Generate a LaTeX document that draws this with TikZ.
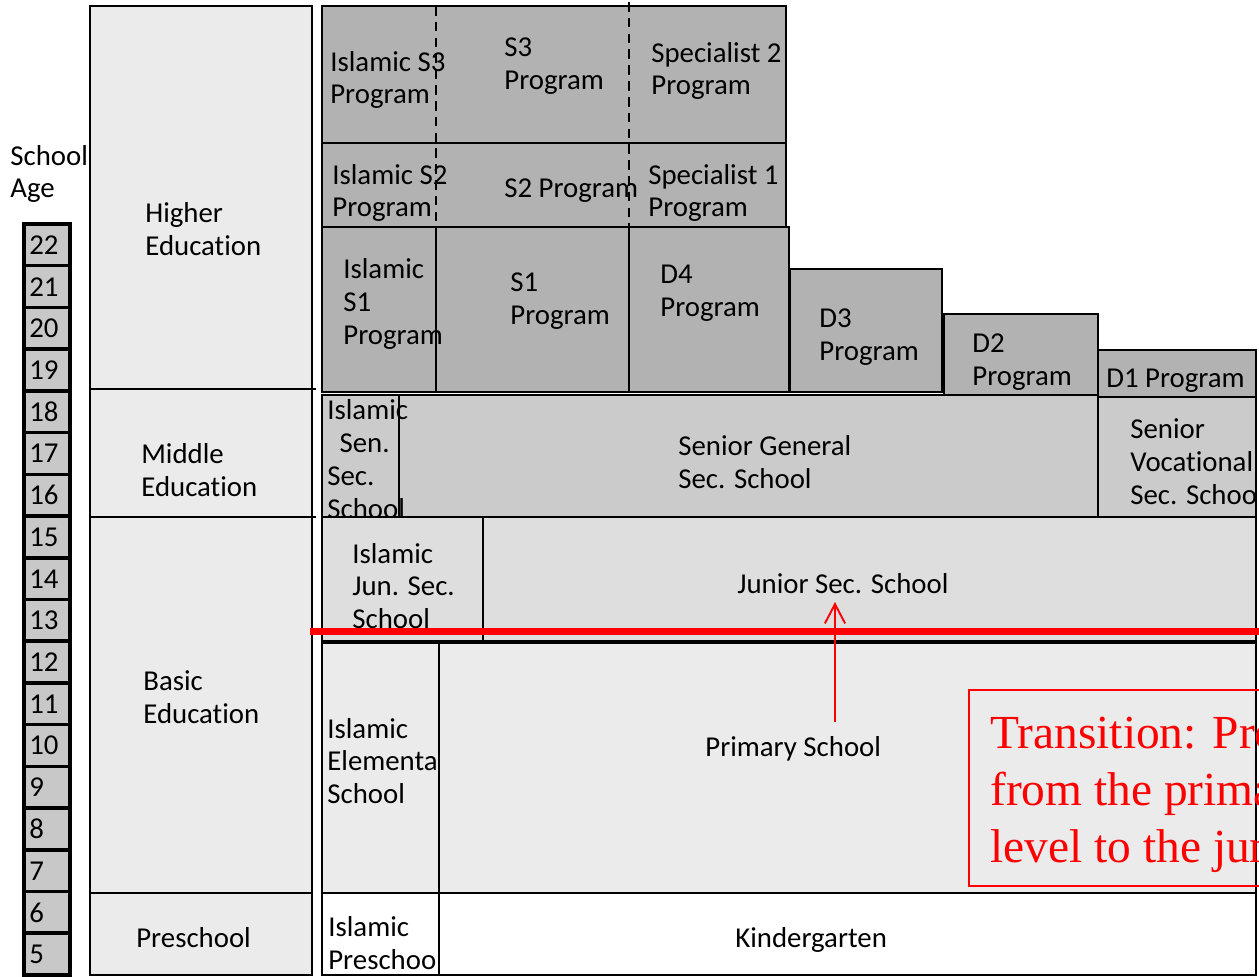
\documentclass[tikz,border=0pt]{standalone}
\usepackage{fontspec}
\setmainfont{Carlito}[Ligatures=NoCommon]
\newfontfamily\transfont{Liberation Serif}
\usetikzlibrary{arrows.meta}

\definecolor{progfill}{HTML}{B2B2B2}
\definecolor{seniorfill}{HTML}{CBCBCB}
\definecolor{juniorfill}{HTML}{DEDEDE}
\definecolor{basicfill}{HTML}{EBEBEB}
\definecolor{agefill}{HTML}{C8C8C8}

\begin{document}
\begin{tikzpicture}[x=0.02cm,y=-0.02cm,
    cell/.style={draw=black,line width=1.2pt},
    level/.style={draw=black,line width=0.9pt,fill=basicfill},
    lbl/.style={anchor=west,align=left,inner sep=0pt,font=\fontsize{16.4}{18.7}\selectfont},
    split/.style={draw=black,line width=1.2pt,dash pattern=on 5.5pt off 3.5pt}]
\useasboundingbox (0,0) rectangle (1259,977);
\clip (0,0) rectangle (1259,977);

% age scale
\node[lbl] (agehead) at (10,174) {School\\Age};
\foreach \a [count=\i from 0] in {22,21,...,5}{
  \draw[fill=agefill,line width=2pt] (24,224+\i*41.72) rectangle (70,265.72+\i*41.72);
  \node[lbl] (age\a) at (29,245+\i*41.72) {\a};
}

% education levels
\draw[level] (90,6) rectangle (312,389);
\draw[level] (90,389) rectangle (312,517);
\draw[level] (90,517) rectangle (312,893);
\draw[level] (90,893) rectangle (312,975);
\draw[line width=0.9pt] (312,389) -- (316,389) (312,517) -- (316,517);
\node[lbl] (higher) at (145,229) {Higher\\Education};
\node[lbl] (middle) at (141,470) {Middle\\Education};
\node[lbl] (basic) at (143,697) {Basic\\Education};
\node[lbl] (preschool) at (136,938) {Preschool};

% higher education programs
\draw[cell,fill=progfill] (322,6) rectangle (786,143);
\draw[cell,fill=progfill] (322,143) rectangle (786,227);
\draw[cell,fill=progfill] (322,227) rectangle (436,392);
\draw[cell,fill=progfill] (436,227) rectangle (629,392);
\draw[cell,fill=progfill] (629,227) rectangle (789,392);
\draw[cell,fill=progfill] (790,269) rectangle (942,392);
\draw[cell,fill=progfill] (944,314) rectangle (1098,395);
\draw[cell,fill=progfill] (1098,350) rectangle (1256,397);
\node[lbl] (islams3) at (330,80) {Islamic S3\\Program};
\node[lbl] (progs3) at (504,66) {S3\\Program};
\node[lbl] (spec2) at (651,71) {Specialist 2\\Program};
\node[lbl] (islams2) at (332,193) {Islamic S2\\Program};
\node[lbl] (progs2) at (504,191) {S2 Program};
\node[lbl] (spec1) at (648,193) {Specialist 1\\Program};
\node[lbl] (islams1) at (343,304) {Islamic\\S1\\Program};
\node[lbl] (progs1) at (510,301) {S1\\Program};
\node[lbl] (progd4) at (660,293) {D4\\Program};
\node[lbl] (progd3) at (819,337) {D3\\Program};
\node[lbl] (progd2) at (972,362) {D2\\Program};
\node[lbl] (progd1) at (1106,381) {D1 Program};
\draw[split] (436,6) -- (436,227);
\draw[split] (629,2) -- (629,227);

% middle education
\draw[cell,fill=seniorfill] (322,395) rectangle (399,517);
\draw[cell,fill=seniorfill] (399,395) rectangle (1098,517);
\draw[cell,fill=seniorfill] (1098,397) rectangle (1256,517);
\node[lbl] (islamsen) at (327,459) {Islamic\\\hspace*{7pt}Sen.\\Sec.\\School};
\node[lbl] (sengen) at (678,462) {Senior General\\Sec. School};
\node[lbl] (senvoc) at (1130,462) {Senior\\Vocational\\Sec. Schoo};

% basic education
\draw[cell,fill=juniorfill] (322,517) rectangle (483,641);
\draw[cell,fill=juniorfill] (483,517) rectangle (1256,641);
\node[lbl] (islamjun) at (352,586) {Islamic\\Jun. Sec.\\School};
\node[lbl] (junior) at (737,584) {Junior Sec. School};
\draw[cell,fill=basicfill] (322,643) rectangle (439,893);
\draw[cell,fill=basicfill] (439,643) rectangle (1256,893);
\node[lbl] (islamelem) at (327,761) {Islamic\\Elementa\\School};
\node[lbl] (primary) at (705,749) {Primary School};

% preschool
\draw[cell,fill=white] (322,893) rectangle (439,975);
\draw[cell,fill=white] (439,893) rectangle (1256,975);
\node[lbl] (islampre) at (328,943) {Islamic\\Preschoo};
\node[lbl] (kinder) at (735,940) {Kindergarten};

% transition
\coordinate (cutleft) at (310,631.5);
\coordinate (cutright) at (1262,631.5);
\draw[red,line width=4pt] (cutleft) -- (cutright);
\coordinate (arrowfoot) at (835,722);
\coordinate (arrowtip) at (835,602);
\draw[red,line width=1.1pt,-{Straight Barb[length=11pt,width=11.5pt]}] (arrowfoot) -- (arrowtip);
\draw[red,line width=1.3pt] (969,690) rectangle (1300,886);
\node[anchor=west,align=left,inner sep=0pt,text=red,font=\transfont\fontsize{27}{32.6}\selectfont] (transnote) at (990,795) {Transition: Pro\\from the prima\\level to the jun};
\end{tikzpicture}
\end{document}
